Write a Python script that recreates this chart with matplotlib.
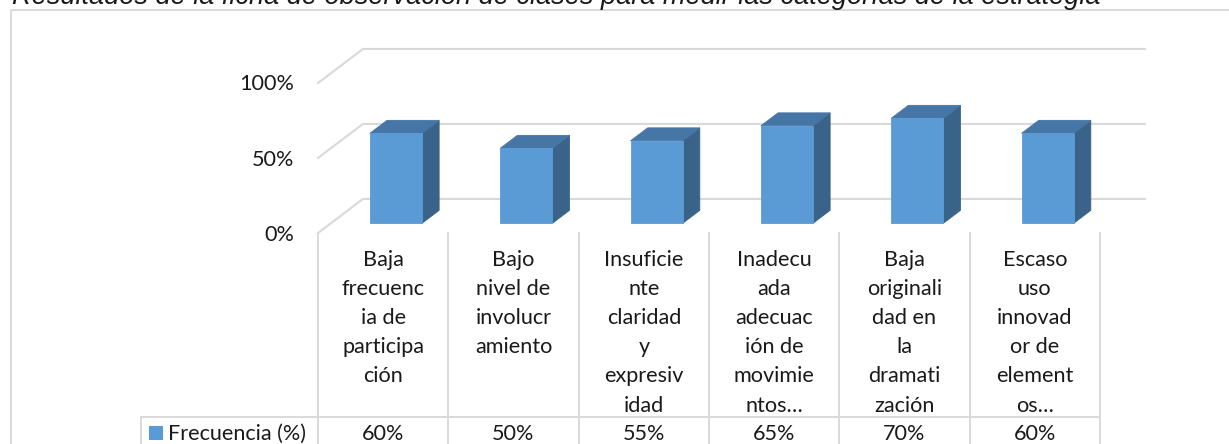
import matplotlib
matplotlib.use('Agg')
import matplotlib.pyplot as plt
from matplotlib.patches import Polygon, Rectangle
from matplotlib import transforms as mtransforms

# datos
titulo = 'Resultados de la ficha de observación de clases para medir las categorías de la estrategia'
categorias = [
    ['Baja', 'frecuenc', 'ia de', 'participa', 'ción'],
    ['Bajo', 'nivel de', 'involucr', 'amiento'],
    ['Insuficie', 'nte', 'claridad', 'y', 'expresiv', 'idad'],
    ['Inadecu', 'ada', 'adecuac', 'ión de', 'movimie', 'ntos…'],
    ['Baja', 'originali', 'dad en', 'la', 'dramati', 'zación'],
    ['Escaso', 'uso', 'innovad', 'or de', 'element', 'os…'],
]
valores = [0.60, 0.50, 0.55, 0.65, 0.70, 0.60]
etiquetas_valor = ['60%', '50%', '55%', '65%', '70%', '60%']
ticks_y = [0.0, 0.5, 1.0]
ticks_y_txt = ['0%', '50%', '100%']
serie = 'Frecuencia (%)'

# colores
azul = '#5B9BD5'
azul_arriba = '#4676A6'
azul_lado = '#3A6389'
gris = '#D9D9D9'
texto = '#1a1a1a'
fuente = 'Lato'
tam = 15.6

W, H = 1229, 444
fig = plt.figure(figsize=(W / 100, H / 100), dpi=100)
fig.patch.set_facecolor('white')

# capa en pixeles para marco, tabla y titulo
pix = fig.add_axes([0, 0, 1, 1], zorder=0)
pix.set_xlim(0, W)
pix.set_ylim(H, 0)
pix.axis('off')

# plano frontal del grafico 3D
ax = fig.add_axes([318 / W, (H - 233) / H, (1100 - 318) / W, 150 / H], zorder=2)
ax.set_xlim(0, len(valores))
ax.set_ylim(0, 1)
ax.axis('off')
ax.patch.set_visible(False)

# profundidad (en unidades de datos)
prof_x = 0.345
prof_y = 0.227

# lineas de cuadricula (pared lateral y del fondo)
for v in ticks_y:
    ax.plot([0, prof_x, len(valores) + prof_x], [v, v + prof_y, v + prof_y],
            color=gris, lw=1.5, clip_on=False, zorder=1, solid_joinstyle='miter')

# barras 3D
ancho = 0.40
d0, d1 = 0.285, 0.665
for i, v in enumerate(valores):
    x0 = i + 0.5 - ancho / 2 + d0 * prof_x
    y0 = d0 * prof_y
    ox = (d1 - d0) * prof_x
    oy = (d1 - d0) * prof_y
    frente = [(x0, y0), (x0 + ancho, y0), (x0 + ancho, y0 + v), (x0, y0 + v)]
    arriba = [(x0, y0 + v), (x0 + ancho, y0 + v), (x0 + ancho + ox, y0 + v + oy), (x0 + ox, y0 + v + oy)]
    lado = [(x0 + ancho, y0), (x0 + ancho + ox, y0 + oy), (x0 + ancho + ox, y0 + v + oy), (x0 + ancho, y0 + v)]
    for pts, c in [(lado, azul_lado), (arriba, azul_arriba), (frente, azul)]:
        ax.add_patch(Polygon(pts, closed=True, facecolor=c, edgecolor=c, lw=0.6,
                             clip_on=False, zorder=3))

# etiquetas eje y
tr_y = mtransforms.offset_copy(ax.transData, fig, x=-24, y=-1.5, units='dots')
for v, t in zip(ticks_y, ticks_y_txt):
    ax.text(0, v, t, transform=tr_y, ha='right', va='center',
            family=fuente, fontsize=tam, color=texto, clip_on=False)

# tabla de datos
mezcla = mtransforms.blended_transform_factory(ax.transData, pix.transData)
for k in range(len(valores) + 1):
    pix.plot([k, k], [233, H + 5], color=gris, lw=1.4, transform=mezcla, clip_on=False)
pix.plot([141, 1100], [417, 417], color=gris, lw=1.4)
pix.plot([141, 141], [417, H + 5], color=gris, lw=1.4)

for i, lineas in enumerate(categorias):
    for j, l in enumerate(lineas):
        pix.text(i + 0.5, 265.5 + j * 29.2, l, transform=mezcla, ha='center', va='baseline',
                 family=fuente, fontsize=tam, color=texto)
    pix.text(i + 0.5, 439.5, etiquetas_valor[i], transform=mezcla, ha='center', va='baseline',
             family=fuente, fontsize=tam, color=texto)

# leyenda dentro de la tabla
pix.add_patch(Rectangle((149, 426), 14, 14, facecolor=azul, edgecolor='none'))
pix.text(168, 439.5, serie, ha='left', va='baseline', family=fuente, fontsize=tam, color=texto)

# marco del grafico
pix.plot([11, 11, W + 5], [H + 5, 10, 10], color=gris, lw=1.4, clip_on=False)

# titulo (cortado arriba como en la imagen)
pix.text(12, 3.5, titulo, ha='left', va='baseline', family='Liberation Sans',
         fontstyle='italic', fontsize=19.5, color=texto, clip_on=False)

fig.savefig('out.png', dpi=100)
